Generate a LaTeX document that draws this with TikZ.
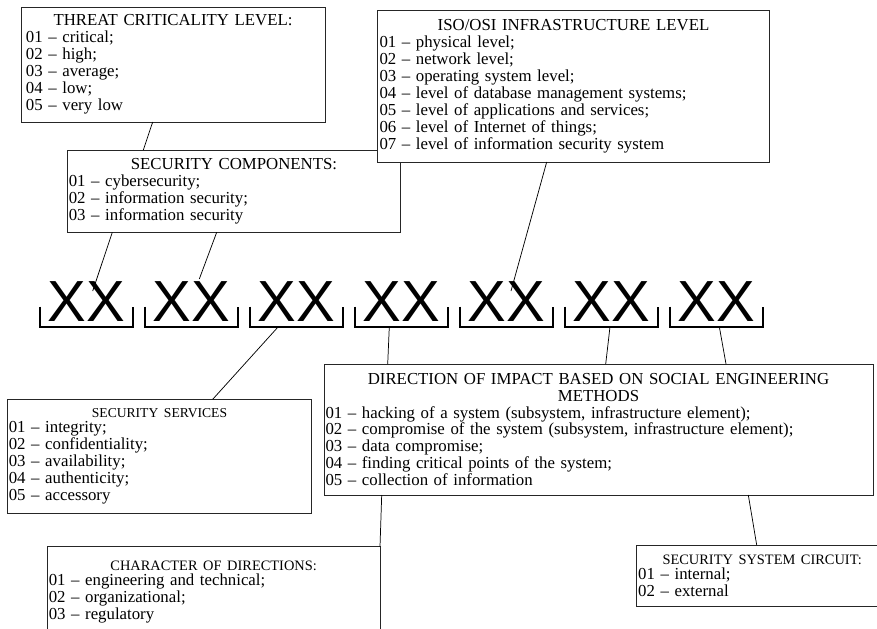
\documentclass[tikz,border=0pt]{standalone}
\usepackage{fontspec}
\setmainfont{Liberation Serif}
\newfontfamily\xxfont{Liberation Sans}
\setlength\parindent{0pt}
\tikzset{
  box/.style={draw=black!85, line width=0.6pt, fill=white, align=left, inner ysep=0pt, outer sep=0pt,
    font=\fontsize{12.6pt}{12.7pt}\selectfont},
  conn/.style={draw=black, line width=0.55pt},
  xxtext/.style={font=\xxfont\fontsize{43.5pt}{44pt}\selectfont, inner sep=0pt, outer sep=0pt,
    anchor=base, minimum width=69.5pt},
  brk/.style={draw=black, line width=1.7pt}
}
% name, x, y (top-left, px), w, h, pad (px), content
\newcommand\mkbox[7]{%
  \pgfmathsetlengthmacro\bw{#4*0.75pt}%
  \pgfmathsetlengthmacro\bh{#5*0.75pt}%
  \pgfmathsetlengthmacro\bp{#6*0.75pt}%
  \pgfmathsetlengthmacro\tw{(#4-2*#6)*0.75pt}%
  \node[box, anchor=north west, minimum width=\bw, minimum height=\bh, inner xsep=\bp, text width=\tw] (#1) at (#2,#3) {#7};}
\newcommand\ttl[1]{\makebox[\hsize][c]{#1}}
\newcommand\ttls[2]{\makebox[\hsize][c]{\fontsize{#1}{#1}\selectfont #2}}
\begin{document}
\begin{tikzpicture}[x=0.75pt,y=-0.75pt]
\useasboundingbox (0,0) rectangle (877,628);

% boxes
\mkbox{thr}{21}{7}{304}{115}{5}{\ttl{THREAT CRITICALITY LEVEL:}\\
01 -- critical;\\ 02 -- high;\\ 03 -- average;\\ 04 -- low;\\ 05 -- very low}
\mkbox{sc}{67.3}{150}{333.4}{82.3}{1.5}{\ttl{SECURITY COMPONENTS:}\\
01 -- cybersecurity;\\ 02 -- information security;\\ 03 -- information security}
\mkbox{iso}{377.5}{10}{392}{152}{2}{\ttl{ISO/OSI INFRASTRUCTURE LEVEL}\\
01 -- physical level;\\ 02 -- network level;\\ 03 -- operating system level;\\
04 -- level of database management systems;\\ 05 -- level of applications and services;\\
06 -- level of Internet of things;\\ 07 -- level of information security system}
\mkbox{ss}{7.3}{399.3}{304.4}{114}{1.5}{\ttls{10.2pt}{SECURITY SERVICES}\\[-1.5pt]
01 -- integrity;\\ 02 -- confidentiality;\\ 03 -- availability;\\ 04 -- authenticity;\\ 05 -- accessory}
\mkbox{dir}{324}{364}{549}{131}{1.5}{\ttl{DIRECTION OF IMPACT BASED ON SOCIAL ENGINEERING}\\ \ttl{METHODS}\\
01 -- hacking of a system (subsystem, infrastructure element);\\
02 -- compromise of the system (subsystem, infrastructure element);\\
03 -- data compromise;\\ 04 -- finding critical points of the system;\\ 05 -- collection of information}
% this box runs past the lower edge of the picture
\mkbox{chr}{47.3}{546.7}{332.7}{90}{1.5}{\ttls{10.8pt}{CHARACTER OF DIRECTIONS:}\\[-1.5pt]
01 -- engineering and technical;\\ 02 -- organizational;\\ 03 -- regulatory\\[2pt]}
\mkbox{circ}{636.7}{545}{251}{61}{1.5}{\ttls{10.8pt}{SECURITY SYSTEM CIRCUIT:}\\[-1.5pt]
01 -- internal;\\ 02 -- external}

% XX row with brackets
\foreach \i/\c in {1/86.3,2/191.3,3/296.3,4/401.3,5/506.3,6/611.3,7/716.3}{
  \node[xxtext] (xx\i) at (\c,321.7) {XX};
  \draw[brk] ([yshift=11.25pt]xx\i.base west) -- ([yshift=-3.75pt]xx\i.base west)
     -- ([yshift=-3.75pt]xx\i.base east) -- ([yshift=11.25pt]xx\i.base east);
}

% connector ends inside / under the code positions
\coordinate (t1) at (92.7,291);
\coordinate (t2) at (199.3,279);
\coordinate (t5) at (511,291);
\coordinate (k3) at (278.3,326.7);
\coordinate (k4) at (389.3,326.7);
\coordinate (k6) at (610,326.7);
\coordinate (k7) at (719.3,326.7);

% connectors
\draw[conn] (thr.south -| 152.7,0) -- (sc.north -| 143.3,0);
\draw[conn] (sc.south -| 112.3,0) -- (t1);
\draw[conn] (sc.south -| 216.7,0) -- (t2);
\draw[conn] (iso.south -| 546.7,0) -- (t5);
\draw[conn] (k3) -- (ss.north -| 212.7,0);
\draw[conn] (k4) -- (dir.north -| 387.7,0);
\draw[conn] (k6) -- (dir.north -| 605.7,0);
\draw[conn] (k7) -- (dir.north -| 726,0);
\draw[conn] (dir.south -| 381.7,0) -- (chr.north east);
\draw[conn] (dir.south -| 748.3,0) -- (circ.north -| 756.7,0);
\end{tikzpicture}
\end{document}
